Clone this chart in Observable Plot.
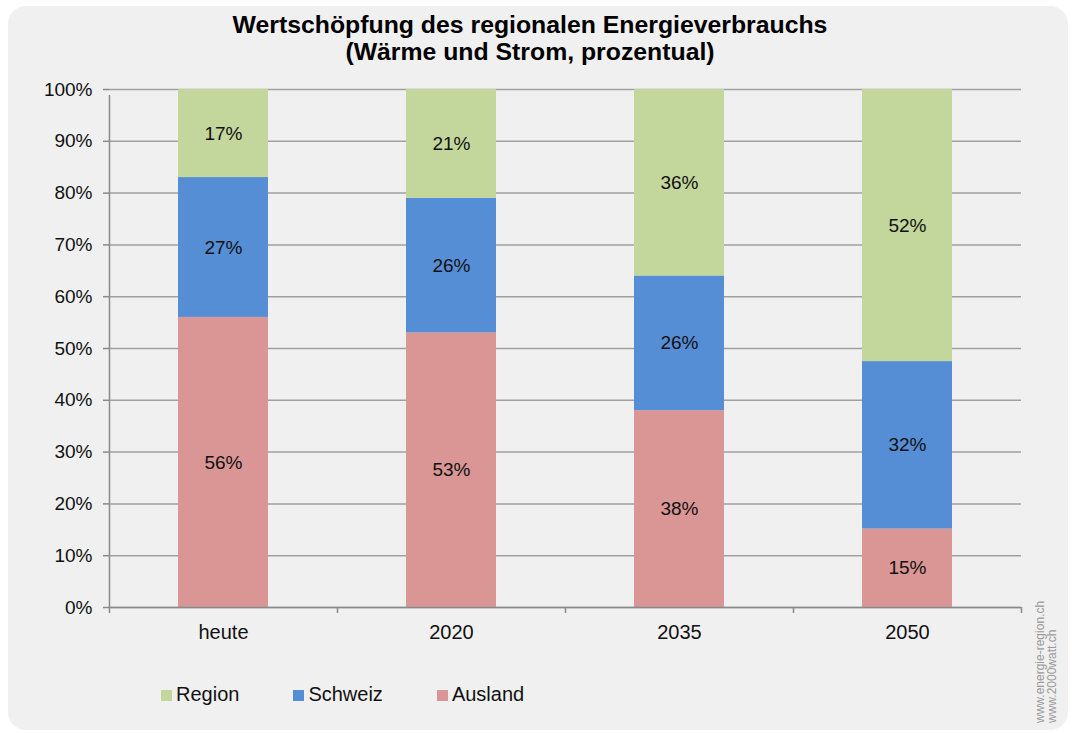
<!DOCTYPE html>
<html>
<head>
<meta charset="utf-8">
<script src="https://cdn.jsdelivr.net/npm/d3@7"></script>
<script src="https://cdn.jsdelivr.net/npm/@observablehq/plot@0.6"></script>
<style>
  html, body { margin: 0; padding: 0; background: #ffffff; }
  body { width: 1073px; height: 733px; position: relative; overflow: hidden;
         font-family: "Liberation Sans", Arial, sans-serif; color: #111; }
  #panel { position: absolute; left: 8px; top: 6px; width: 1060px; height: 724px;
           background: #f0f0f0; border-radius: 18px; }
  #title { position: absolute; left: 0; top: 11px; width: 1060px; text-align: center;
           font-weight: bold; font-size: 24.8px; line-height: 27px; color: #000; }
  #chart { position: absolute; left: 0; top: 0; }
  #legend { position: absolute; left: 161px; top: 682px; display: flex; gap: 54px;
            font-size: 20px; line-height: 24px; color: #111; }
  #legend .item { display: flex; align-items: center; }
  #legend .sw { width: 11px; height: 11px; margin-right: 4px; margin-top: 2px; }
  #credit { position: absolute; left: 1034px; top: 590px; height: 133px;
            writing-mode: vertical-rl; transform: rotate(180deg);
            font-size: 12px; line-height: 12px; color: #9a9a9a; text-align: start; }
</style>
</head>
<body>
<div id="panel"></div>
<div id="title">Wertschöpfung des regionalen Energieverbrauchs<br>(Wärme und Strom, prozentual)</div>
<div id="chart"></div>
<div id="legend"></div>
<div id="credit">www.energie-region.ch<br>www.2000watt.ch</div>
<script>
// ---- data ----
const categories = ["heute", "2020", "2035", "2050"];
const series = ["Ausland", "Schweiz", "Region"];
const ausland = [56, 53, 38, 15];
const schweiz = [27, 26, 26, 32];
const region = [17, 21, 36, 52];
const colors = ["#d99694", "#558ed5", "#c3d69b"];
const legendOrder = ["Region", "Schweiz", "Ausland"];

const seriesValues = {Ausland: ausland, Schweiz: schweiz, Region: region};
const table = [];
categories.forEach((c, i) => {
  series.forEach(s => table.push({cat: c, series: s, value: seriesValues[s][i]}));
});

// ---- layout ----
const W = 1073, H = 650;
const mL = 109, mR = 52, mT = 89, mB = 43;
const step = (W - mL - mR) / categories.length;
const gridColor = "#a0a0a0", axisColor = "#8a8a8a";

const chart = Plot.plot({
  width: W, height: H,
  marginLeft: mL, marginRight: mR, marginTop: mT, marginBottom: mB,
  style: {background: "transparent", fontFamily: "'Liberation Sans', Arial, sans-serif", fontSize: "19px", color: "#111"},
  x: {domain: categories, paddingInner: 0.605, paddingOuter: 0.3025, label: null},
  y: {domain: [0, 1], label: null},
  color: {domain: series, range: colors},
  marks: [
    Plot.gridY({ticks: 10, stroke: gridColor, strokeOpacity: 1, strokeWidth: 1.5}),
    Plot.barY(table, Plot.stackY({offset: "normalize", x: "cat", y: "value", z: "series", fill: "series"})),
    Plot.text(table, Plot.stackY({offset: "normalize", x: "cat", y: "value", z: "series",
      text: d => d.value + "%", fill: "#111", fontSize: 19})),
    Plot.ruleY([0], {stroke: axisColor, strokeWidth: 1.5}),
    Plot.ruleX([categories[0]], {dx: -step / 2, y1: 0, y2: 1, insetBottom: -6, stroke: axisColor, strokeWidth: 1.5}),
    Plot.ruleX(categories, {dx: -step / 2, y1: 0, y2: 0, insetBottom: -6, stroke: axisColor, strokeWidth: 1.5}),
    Plot.ruleX([categories[categories.length - 1]], {dx: step / 2, y1: 0, y2: 0, insetBottom: -6, stroke: axisColor, strokeWidth: 1.5}),
    Plot.axisY({ticks: 10, tickFormat: d3.format(".0%"), tickSize: 6, tickPadding: 11, stroke: axisColor, strokeWidth: 1.5, fill: "#111", fontSize: 19, label: null}),
    Plot.axisX({tickSize: 0, tickPadding: 17, fill: "#111", fontSize: 20, label: null})
  ]
});
document.getElementById("chart").appendChild(chart);

// ---- legend ----
const legend = document.getElementById("legend");
legendOrder.forEach(s => {
  const item = document.createElement("div");
  item.className = "item";
  const sw = document.createElement("span");
  sw.className = "sw";
  sw.style.background = colors[series.indexOf(s)];
  const t = document.createElement("span");
  t.textContent = s;
  item.appendChild(sw); item.appendChild(t);
  legend.appendChild(item);
});
</script>
</body>
</html>
